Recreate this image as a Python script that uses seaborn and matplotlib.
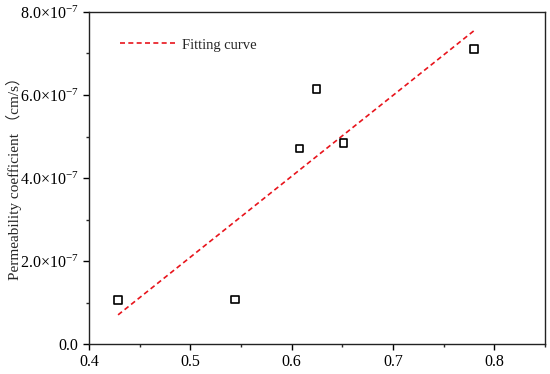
import matplotlib
matplotlib.use('Agg')
import matplotlib.pyplot as plt
from matplotlib.ticker import MultipleLocator, FuncFormatter
import numpy as np
import pandas as pd
import seaborn as sns

# datos
razon = [0.4286, 0.5438, 0.6076, 0.6246, 0.6512, 0.7796]
permeabilidad = [1.06e-7, 1.077e-7, 4.715e-7, 6.15e-7, 4.84e-7, 7.11e-7]
etiqueta_y = 'Permeability coefficient （cm/s）'
etiqueta_ajuste = 'Fitting curve'

sns.set_style('ticks')
plt.rcParams['font.family'] = ['Liberation Serif', 'Noto Sans CJK SC']
plt.rcParams['mathtext.fontset'] = 'custom'
plt.rcParams['mathtext.rm'] = 'Liberation Serif'
plt.rcParams['mathtext.it'] = 'Liberation Serif:italic'

df = pd.DataFrame({'x': razon, 'y': permeabilidad})

fig = plt.figure(figsize=(5.5, 3.74), dpi=100)
ax = fig.add_axes([0.162, 0.080, 0.829, 0.888])

# recta de ajuste por minimos cuadrados
sns.regplot(data=df, x='x', y='y', scatter=False, ci=None, truncate=True, ax=ax,
            line_kws=dict(color='#e8141c', ls=(0, (3, 2)), lw=1.2))
sns.scatterplot(data=df, x='x', y='y', marker='s', s=30, facecolor='none',
                edgecolor='black', linewidth=1.2, ax=ax, zorder=3, legend=False)

ax.set_xlim(0.4, 0.85)
ax.set_ylim(0, 8e-7)
ax.xaxis.set_major_locator(MultipleLocator(0.1))
ax.xaxis.set_minor_locator(MultipleLocator(0.05))
ax.yaxis.set_major_locator(MultipleLocator(2e-7))
ax.yaxis.set_minor_locator(MultipleLocator(1e-7))

def formato_y(v, pos):
    if abs(v) < 1e-12:
        return '0.0'
    return '%.1f×10$^{-7}$' % (v / 1e-7)

ax.yaxis.set_major_formatter(FuncFormatter(formato_y))
ax.xaxis.set_major_formatter(FuncFormatter(lambda v, p: '%.1f' % v))
ax.tick_params(which='major', direction='out', length=4, width=1, labelsize=11.5, colors='black')
ax.tick_params(which='minor', direction='out', length=2.5, width=1)
for s in ax.spines.values():
    s.set_linewidth(1.0)
    s.set_color('#222222')

ax.set_xlabel('')
ax.set_ylabel(etiqueta_y, fontsize=11)
ax.yaxis.set_label_coords(-0.148, 0.51)

linea = ax.lines[0]
ax.legend([linea], [etiqueta_ajuste], loc='upper left', frameon=False, fontsize=10.5,
          handlelength=3.8, handletextpad=0.4, bbox_to_anchor=(0.04, 0.96))

fig.savefig('out.png', dpi=100)
